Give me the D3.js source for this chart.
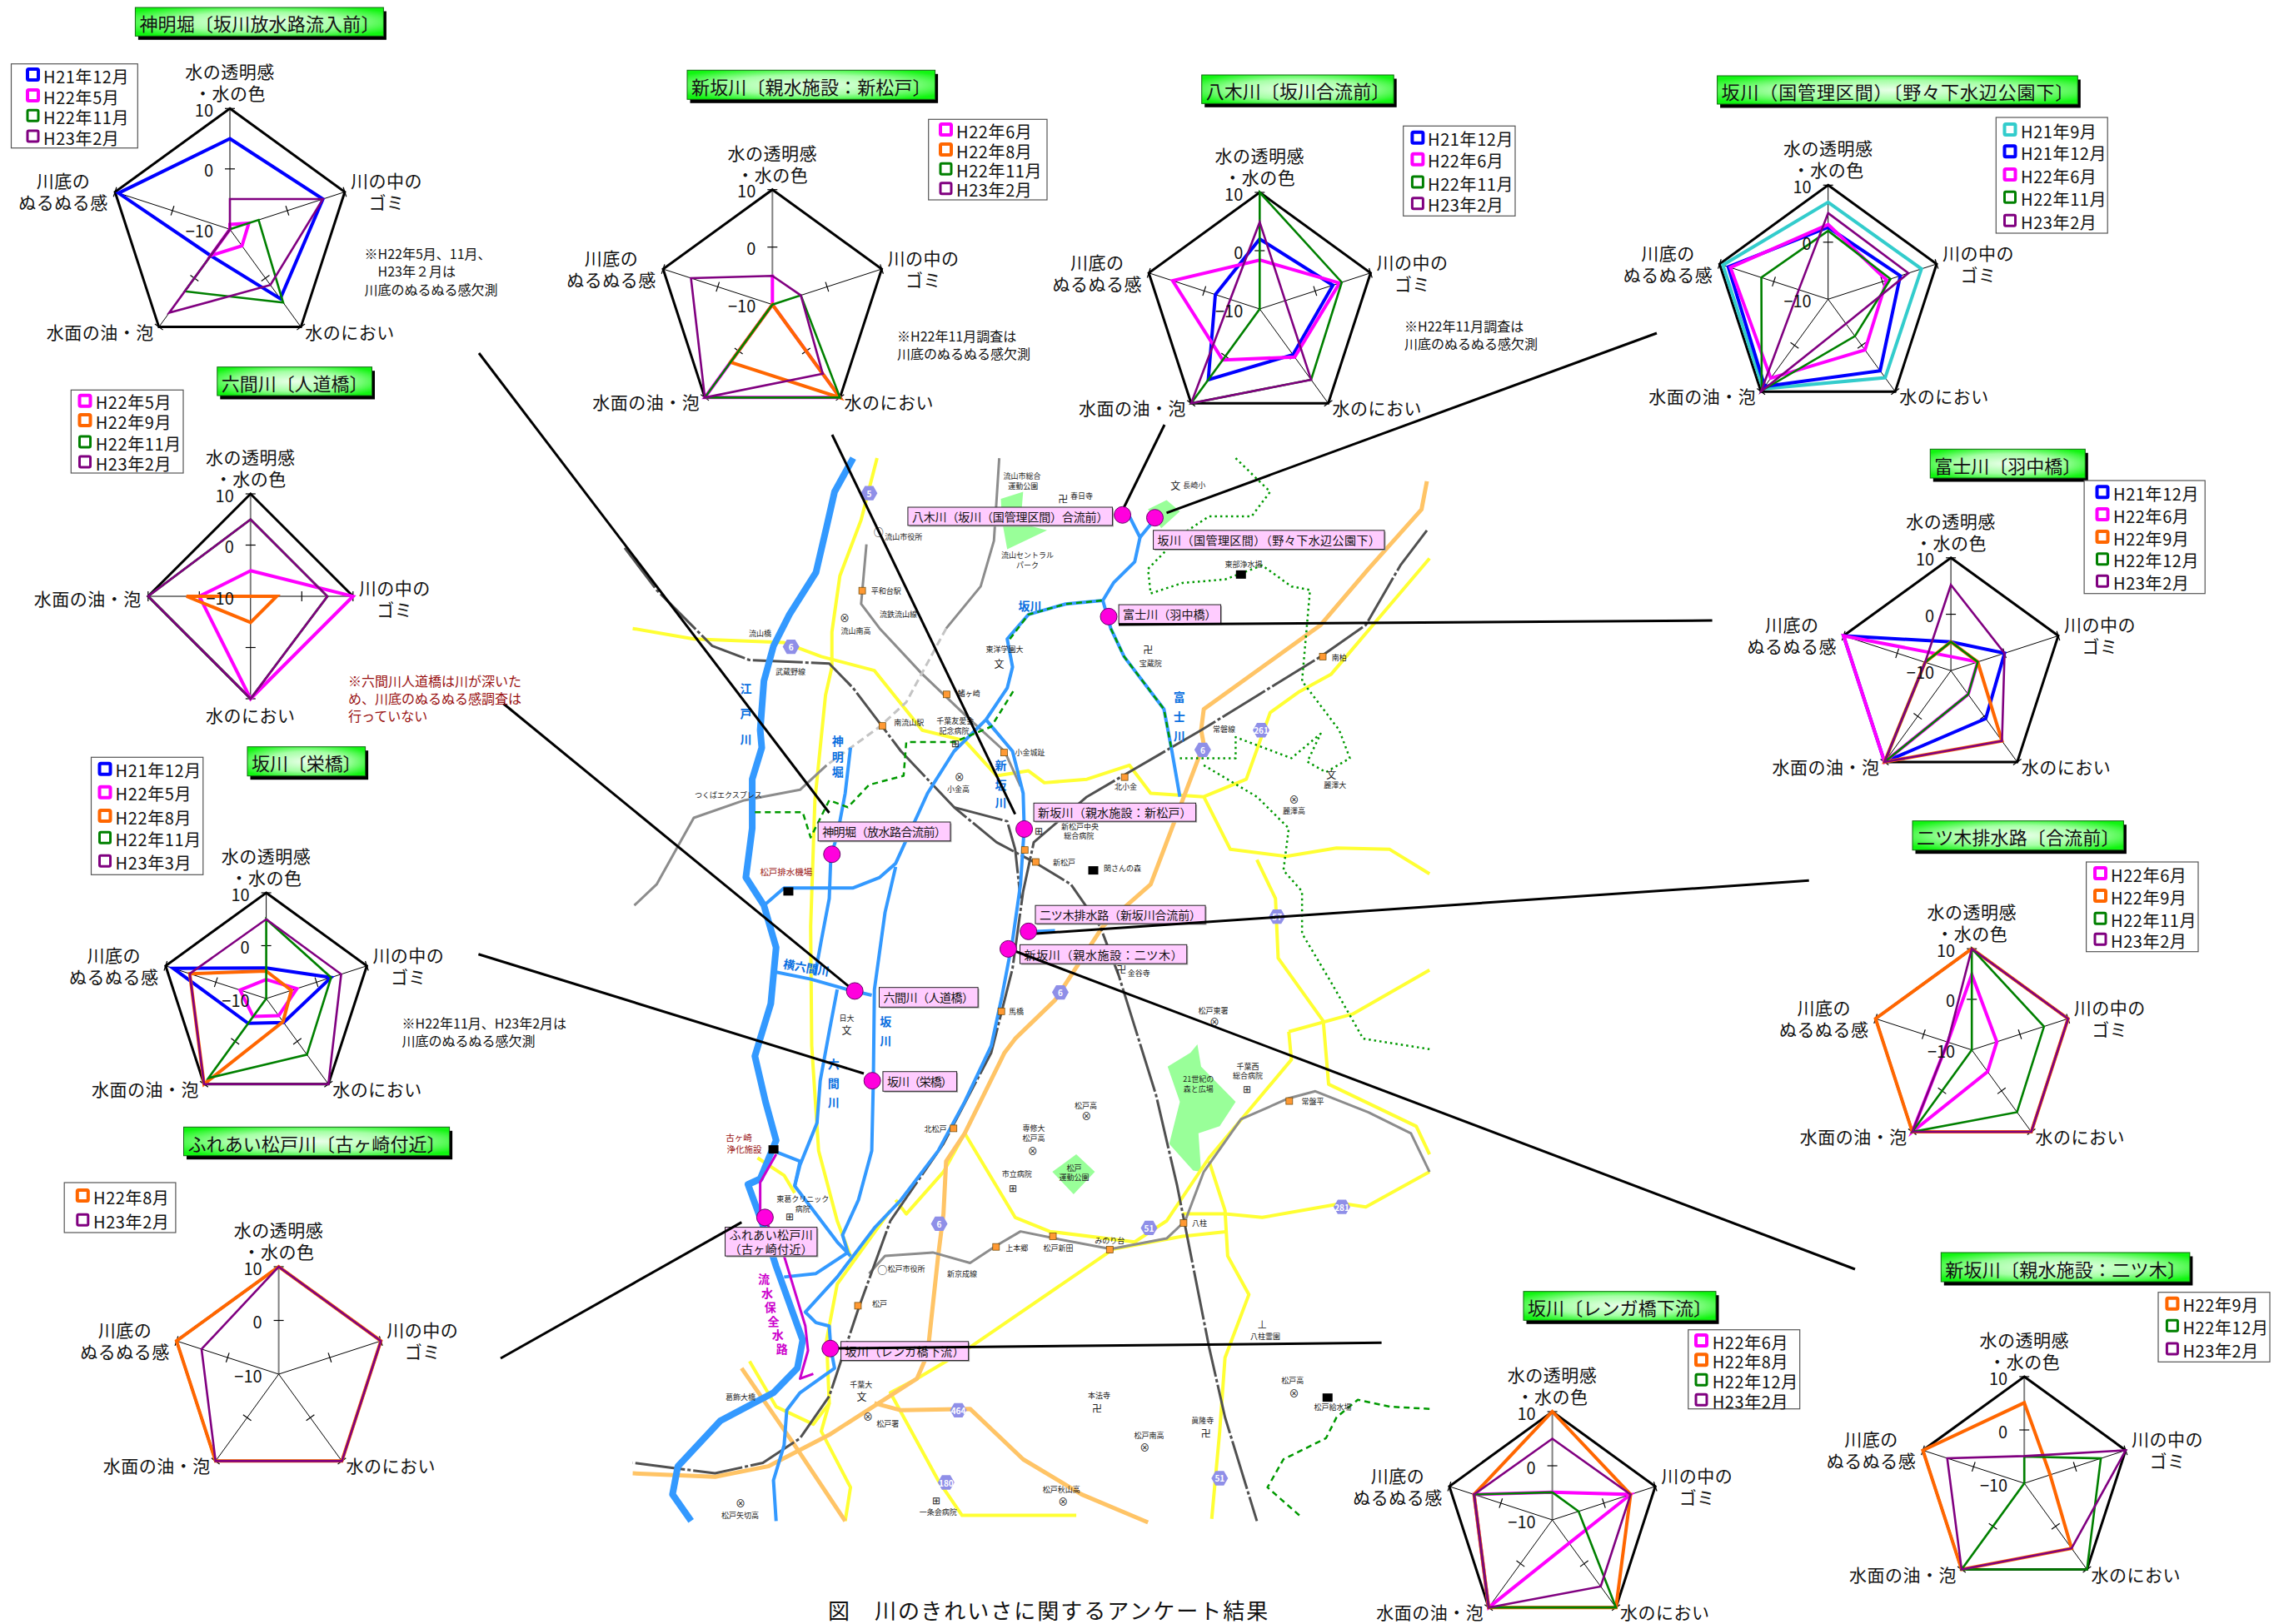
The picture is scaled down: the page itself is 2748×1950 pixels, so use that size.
<!DOCTYPE html>
<html lang="ja">
<head>
<meta charset="utf-8">
<title>川のきれいさに関するアンケート結果</title>
<script src="https://d3js.org/d3.v7.min.js"></script>
<style>
  html, body { margin: 0; padding: 0; background: #fff; }
  svg { display: block; }
  text { font-family: "Noto Sans CJK JP", "Noto Sans", sans-serif; fill: #111; }
</style>
</head>
<body>
<svg id="chart" width="2748" height="1950" viewBox="0 0 2748 1950"></svg>
<script>
// Axis names, clockwise from the top
const axisTop = ['水の透明感', '・水の色'];
const axisRight = ['川の中の', 'ゴミ'];
const axisBottomRight = ['水のにおい'];
const axisBottomLeft = ['水面の油・泡'];
const axisLeft = ['川底の', 'ぬるぬる感'];
const pentagonAxes = [axisTop, axisRight, axisBottomRight, axisBottomLeft, axisLeft];
const diamondAxes = [axisTop, axisRight, axisBottomRight, axisBottomLeft];
const scaleTicks = [10, 0, -10];

// Survey results. Each row follows the axis order above; a missing survey sits at -10
const shinmeiMonths = ['H21年12月', 'H22年5月', 'H22年11月', 'H23年2月'];
const shinmeiValues = [
  [5, 6.2, 4.2, -4.6, 9.4],
  [-9.2, -6.7, -6.6, -4.6, -10],
  [-10, -5, 5, 2.7, -10],
  [-5, 6.2, 1.4, 7.1, -10]
];
const shinMatsudoMonths = ['H22年6月', 'H22年8月', 'H22年11月', 'H23年2月'];
const shinMatsudoValues = [
  [-4.8, -10, 10, 10, -10],
  [-10, -10, 10, 2.4, -10],
  [-10, -4.8, 10, 10, -10],
  [-5, -4.8, 4.9, 10, 4.9]
];
const yagiMonths = ['H21年12月', 'H22年6月', 'H22年11月', 'H23年2月'];
const yagiValues = [
  [2, 3.2, -0.3, 5, -2],
  [-1.6, 4.4, 0.2, 0.8, 5.7],
  [10, 4.8, 5, 10, -10],
  [4.9, -5.4, 5, 10, -4.7]
];
const nonogeMonths = ['H21年9月', 'H21年12月', 'H22年6月', 'H22年11月', 'H23年2月'];
const nonogeValues = [
  [7, 7.2, 7, 9.4, 9.4],
  [2.6, 3.3, 5.5, 8.9, 8.4],
  [3.1, 0.8, 1, 7.1, 8],
  [2, 1.5, -2, 9.8, 2.3],
  [5.1, 4.8, -4.7, 10, -4.6]
];
const hanakaMonths = ['H21年12月', 'H22年6月', 'H22年9月', 'H22年12月', 'H23年2月'];
const hanakaValues = [
  [-4.9, 0, 0.5, 10, 10],
  [-7.5, -5, -4.8, 10, 10],
  [-4.9, -5, 5.4, 10, -5.2],
  [-4.9, -5, -4.8, 10, -5.2],
  [5.2, 0, 5.4, 10, -5.2]
];
const futatsugiDrainMonths = ['H22年6月', 'H22年9月', 'H22年11月', 'H23年2月'];
const futatsugiDrainValues = [
  [4.9, -4.8, -4.7, 10, -5],
  [10, 10, 10, 10, 10],
  [10, 5, 5.2, 10, -10],
  [10, 10, 10, 10, -5]
];
const futatsugiMonths = ['H22年9月', 'H22年12月', 'H23年2月'];
const futatsugiValues = [
  [5.1, -4.9, 5.1, 10, 10],
  [-5, 5.1, 10, 10, -10],
  [-4.9, 10, 5.1, 10, 5.2]
];
const rengaMonths = ['H22年6月', 'H22年8月', 'H22年12月', 'H23年2月'];
const rengaValues = [
  [-4.9, 5.2, -4.7, 10, 5.2],
  [10, 5.2, 10, 10, 5.2],
  [-4.9, -4.9, 10, 10, 5.2],
  [5, 5.2, 5.2, 10, 5.2]
];
const koganesakiMonths = ['H22年8月', 'H23年2月'];
const koganesakiValues = [
  [10, 10, 10, 10, 10],
  [10, 10, 10, 10, 5.1]
];
const sakaeMonths = ['H21年12月', 'H22年5月', 'H22年8月', 'H22年11月', 'H23年3月'];
const sakaeValues = [
  [-4.2, 2.9, -4.4, -4.2, 8.5],
  [-6.4, -3.9, -6, -5.8, -4.8],
  [-4.8, -5, -4.6, 10, 5.2],
  [5, 2.9, 3.1, 8.6, -10],
  [5, 4.9, 10, 10, 5.2]
];
// 六間川 has no 川底 axis, so only four spokes
const rokkenMonths = ['H22年5月', 'H22年9月', 'H22年11月', 'H23年2月'];
const rokkenValues = [
  [-5, 10, 10, 0],
  [-10, -4.9, -4.9, 2.5],
  [5, 5, 10, 10],
  [5, 5, 10, 10]
];

// Where each small chart goes: centre, radius, title box, legend box and row positions
const panels = [
  { title: '神明堀〔坂川放水路流入前〕', axes: pentagonAxes, months: shinmeiMonths, values: shinmeiValues,
    cx: 276, cy: 275.3, r: 145, box: [162.4, 9, 298, 34.3], legend: [13.5, 76.7, 151.8, 101],
    rows: [90, 115, 139.3, 164], swatchX: 31, textX: 52,
    note: { x: 437.5, y: 304, lines: ['※H22年5月、11月、', '　H23年２月は', '川底のぬるぬる感欠測'] } },
  { title: '新坂川〔親水施設：新松戸〕', axes: pentagonAxes, months: shinMatsudoMonths, values: shinMatsudoValues,
    cx: 927.3, cy: 365.7, r: 138, box: [825, 84.3, 297.6, 35], legend: [1114.7, 143.3, 142.3, 96.7], greyAxis: true,
    rows: [156, 180, 203.3, 226.7], swatchX: 1127, textX: 1148,
    note: { x: 1077, y: 402.7, lines: ['※H22年11月調査は', '川底のぬるぬる感欠測'] } },
  { title: '八木川〔坂川合流前〕', axes: pentagonAxes, months: yagiMonths, values: yagiValues,
    cx: 1512.3, cy: 371, r: 140, box: [1442.7, 90, 230.5, 34.3], legend: [1684.7, 151.3, 134.3, 108],
    rows: [165.7, 191.7, 219, 244.7], swatchX: 1693.4, textX: 1714,
    note: { x: 1686, y: 391, lines: ['※H22年11月調査は', '川底のぬるぬる感欠測'] } },
  { title: '坂川（国管理区間）〔野々下水辺公園下〕', axes: pentagonAxes, months: nonogeMonths, values: nonogeValues,
    cx: 2194.7, cy: 359.3, r: 137, box: [2061.6, 91, 432.7, 34], legend: [2396.3, 141, 133.9, 139],
    rows: [156, 182.3, 210, 237.3, 265.3], swatchX: 2404.5, textX: 2426 },
  { title: '富士川〔羽中橋〕', axes: pentagonAxes, months: hanakaMonths, values: hanakaValues,
    cx: 2342.1, cy: 805.3, r: 135.5, box: [2317.3, 539.3, 186, 34.7], legend: [2502.1, 577, 145.1, 135.7],
    rows: [591.3, 618, 645, 671.7, 698.3], swatchX: 2515.5, textX: 2537 },
  { title: '二ツ木排水路〔合流前〕', axes: pentagonAxes, months: futatsugiDrainMonths, values: futatsugiDrainValues,
    cx: 2367.2, cy: 1260.7, r: 121.5, box: [2296, 985.7, 253.4, 35], legend: [2504.6, 1035, 134.4, 107.7],
    rows: [1049, 1076, 1103.3, 1128.3], swatchX: 2513, textX: 2534 },
  { title: '新坂川〔親水施設：二ツ木〕', axes: pentagonAxes, months: futatsugiMonths, values: futatsugiValues,
    cx: 2430.2, cy: 1781, r: 128, box: [2330.3, 1504, 298.6, 35], legend: [2591, 1551.7, 134, 83.6], greyAxis: true,
    rows: [1565.7, 1592.3, 1620], swatchX: 2599.4, textX: 2620.4 },
  { title: '坂川〔レンガ橋下流〕', axes: pentagonAxes, months: rengaMonths, values: rengaValues,
    cx: 1863.6, cy: 1825, r: 130, box: [1829, 1550.7, 231, 34.6], legend: [2026.8, 1596.7, 133.9, 95], greyAxis: true,
    rows: [1610, 1633.3, 1657.3, 1681.3], swatchX: 2034, textX: 2055.7 },
  { title: 'ふれあい松戸川〔古ヶ崎付近〕', axes: pentagonAxes, months: koganesakiMonths, values: koganesakiValues,
    cx: 334.6, cy: 1650, r: 129, box: [220.5, 1353.3, 319.1, 34.4], legend: [77.2, 1420, 133.7, 60], greyAxis: true,
    rows: [1436, 1465.3], swatchX: 90.8, textX: 112 },
  { title: '坂川〔栄橋〕', axes: pentagonAxes, months: sakaeMonths, values: sakaeValues,
    cx: 319.6, cy: 1199, r: 127, box: [297, 896.7, 141.6, 35], legend: [109.5, 909.3, 134.3, 141],
    rows: [923.7, 951.7, 980, 1006.3, 1034.3], swatchX: 117.5, textX: 138.6,
    note: { x: 482.6, y: 1227.7, lines: ['※H22年11月、H23年2月は', '川底のぬるぬる感欠測'] } },
  { title: '六間川〔人道橋〕', axes: diamondAxes, months: rokkenMonths, values: rokkenValues,
    cx: 300.8, cy: 716, r: 123, box: [260.8, 440.7, 185.7, 34.3], legend: [85.3, 468.3, 134.7, 99.7], greyAxis: true,
    rows: [481.7, 505, 531, 555], swatchX: 93.5, textX: 114.7,
    note: { x: 418, y: 816.7, color: '#991111', lines: ['※六間川人道橋は川が深いた', 'め、川底のぬるぬる感調査は', '行っていない'] } }
];

// Survey months share colours across every chart
const monthColor = label => {
  if (label.startsWith('H21年9')) return '#33cccc';
  if (label.startsWith('H21')) return '#0000ff';
  if (/H22年[56]月/.test(label)) return '#ff00ff';
  if (/H22年[89]月/.test(label)) return '#ff6600';
  if (label.startsWith('H22')) return '#008000';
  return '#800080';
};
const isThinMonth = label => /H22年1[12]月|H23/.test(label);

// Map geometry, in the map's own 1568 x 1568 units
const edogawa = [[430,12],[395,60],[380,110],[360,175],[310,235],[280,280],[262,330],[255,400],[258,425],[240,470],[240,540],[228,610],[262,650],[285,710],[275,790],[245,865],[265,930],[285,985],[255,1040],[232,1048],[262,1110],[285,1165],[335,1270],[325,1310],[280,1345],[180,1385],[100,1450],[90,1490],[125,1528]];
const rivers = [
  [[425,425],[415,490],[400,550],[388,580],[385,640],[370,700],[358,750]],
  [[285,745],[350,755],[420,770],[465,778]],
  [[400,770],[385,830],[368,900],[362,960],[330,1020],[320,1050],[400,1130],[425,1150]],
  [[510,595],[490,660],[470,770],[468,900],[465,1000],[440,1070],[410,1120],[420,1145],[360,1175],[300,1180]],
  [[262,650],[300,625],[430,625],[480,610],[510,590],[570,490],[620,430],[680,385],[720,340],[730,310],[720,270],[760,235],[830,220],[900,215],[920,190],[960,160],[970,125],[950,95],[937,93]],
  [[970,125],[1000,97]],
  [[900,215],[915,255],[940,295],[1015,370],[1030,430],[1045,495]],
  [[680,385],[730,430],[750,490],[752,540],[745,620],[730,700],[710,780],[690,850],[640,930],[590,1000],[520,1070],[470,1110],[400,1180],[340,1230],[360,1245],[385,1250],[388,1282],[395,1310],[330,1345],[305,1370],[300,1420],[280,1470],[285,1528]],
  [[745,688],[810,686]],
  [[280,1000],[330,1015],[320,1050]]
];
const conservationChannel = [[285,1005],[255,1045],[255,1085],[300,1150],[340,1250],[345,1285],[330,1325],[355,1318]];
const yellowRoads = [
  [[475,12],[445,100],[405,180],[390,260],[390,310],[378,350],[358,500],[350,680],[352,850],[365,1000],[400,1100],[430,1160]],
  [[15,255],[130,270],[300,275],[370,295],[470,315],[560,400],[640,415],[700,465],[760,458],[790,475],[870,470],[950,450],[990,490],[1090,495],[1170,470],[1215,375],[1270,345],[1330,320],[1515,155]],
  [[1090,495],[1140,570],[1245,580],[1340,568],[1440,570],[1515,605]],
  [[1190,585],[1225,640],[1230,725],[1315,815],[1325,905],[1490,965],[1515,1005]],
  [[1250,830],[1370,805],[1515,742]],
  [[1250,830],[1255,870],[1100,1010],[1020,1100],[1000,1110],[960,1130],[800,1115],[735,1095],[640,975]],
  [[640,975],[600,1030],[530,1090],[510,1070]],
  [[1515,1030],[1395,1080],[1350,1075],[1200,1095],[1130,1090],[1050,1090]],
  [[1100,1015],[1130,1085],[1135,1150],[1175,1205],[1130,1295],[1120,1400],[1105,1525]],
  [[1135,1115],[1050,1122],[920,1140],[650,1280],[550,1325],[500,1345],[590,1470],[635,1520],[850,1520]],
  [[500,1085],[400,1190],[380,1270],[385,1360],[355,1390],[285,1365],[235,1300]],
  [[385,1360],[370,1400],[425,1480],[415,1528]],
  [[250,1010],[300,1035],[320,1060]]
];
const orangeRoads = [
  [[1510,45],[1500,85],[1400,170],[1310,250],[1090,370],[1085,400],[1090,420],[1020,560],[990,620],[900,680],[810,785],[735,840],[715,860],[640,975],[605,1015],[600,1090],[590,1150],[570,1290],[550,1325],[385,1405],[270,1450],[170,1465],[15,1460]],
  [[220,1310],[320,1420],[415,1528]],
  [[470,1360],[520,1370],[650,1368],[750,1440],[860,1490],[985,1530]]
];
const greyRails = [
  [[705,12],[695,130],[670,195],[605,255]],
  [[380,450],[330,485],[225,500],[130,525],[60,620],[18,650]],
  [[455,135],[445,220],[480,255],[560,320],[650,385],[715,430],[745,480]],
  [[460,1175],[490,1150],[580,1145],[650,1160],[700,1135],[745,1115],[810,1125],[915,1140],[1020,1125],[1055,1100],[1090,1030],[1160,955],[1250,925],[1300,915],[1400,945],[1480,975],[1515,1030]]
];
const plannedRail = [[605,255],[530,360],[480,395],[380,450]];
const darkRails = [
  [[0,140],[60,200],[165,280],[235,300],[385,305],[430,340],[520,430],[620,510],[700,560],[775,590],[840,620],[895,680],[930,750],[1000,920],[1040,1050],[1100,1280],[1130,1380],[1190,1528]],
  [[1510,115],[1460,165],[1395,250],[1310,295],[1085,400],[870,495],[770,560],[750,630],[730,740],[690,860],[600,990],[500,1100],[440,1225],[385,1350],[330,1410],[260,1445],[170,1460],[15,1445]],
  [[620,510],[720,530],[735,570],[745,640]]
];
const greenDashedTrails = [
  [[245,517],[335,517],[350,553],[385,500],[420,510],[460,478],[525,465],[530,417],[620,417],[690,395],[735,340]],
  [[725,270],[760,235],[830,220],[900,215]],
  [[915,255],[940,295],[1015,370],[1030,430]],
  [[1515,1368],[1440,1365],[1380,1355],[1340,1380],[1320,1410],[1240,1440],[1210,1480],[1270,1520]]
];
const greenDottedTrails = [
  [[1150,12],[1215,60],[1180,95],[1100,95],[1050,120],[985,170],[990,205],[1050,190],[1130,185],[1200,165],[1255,195],[1290,200],[1275,330],[1345,400],[1365,440],[1320,460],[1285,445],[1310,405],[1255,440],[1220,430],[1150,410],[1150,440],[1040,440]],
  [[1090,450],[1190,495],[1250,540],[1240,600],[1275,630],[1275,690],[1330,760],[1390,840],[1515,855]]
];
const parks = [
  [[708,70],[750,60],[745,105],[795,115],[720,142],[710,100]],
  [[985,85],[1020,72],[1045,88],[1010,112]],
  [[1078,848],[1085,880],[1150,930],[1120,965],[1080,975],[1085,1030],[1070,1028],[1025,990],[1045,930],[1022,880],[1065,860]],
  [[805,1030],[850,1005],[885,1030],[845,1062]]
];
const blackSites = [[1160,178],[882,600],[308,630],[280,998],[1323,1352]];
const stations = [[447,201],[1314,295],[606,349],[485,394],[714,432],[941,467],[753,571],[774,588],[709,801],[619,968],[1251,929],[699,1137],[806,1122],[913,1141],[1052,1103],[439,1221]];
const shields = [['5',460,62],['6',313,281],['6',1088,428],['261',1198,400],['57',1228,666],['6',820,774],['51',987,1110],['281',1350,1080],['6',592,1104],['464',628,1370],['180',605,1473],['51',1120,1467]];
const surveyPoints = [[937,93],[998,97],[911,238],[752,541],[390,577],[760,687],[722,712],[433,772],[466,900],[264,1095],[387,1282]];
const pointLabels = [
  [['八木川（坂川（国管理区間）合流前）'], 533, 82, 918, 108],
  [['坂川（国管理区間）（野々下水辺公園下）'], 995, 115, 1430, 142],
  [['富士川（羽中橋）'], 930, 221, 1122, 248],
  [['新坂川（親水施設：新松戸）'], 770, 504, 1075, 530],
  [['神明堀（放水路合流前）'], 364, 531, 613, 558],
  [['二ツ木排水路（新坂川合流前）'], 773, 650, 1093, 676],
  [['新坂川（親水施設：二ツ木）'], 744, 706, 1058, 733],
  [['六間川（人道橋）'], 479, 767, 665, 795],
  [['坂川（栄橋）'], 486, 887, 625, 915],
  [['ふれあい松戸川', '（古ヶ崎付近）'], 189, 1109, 362, 1150],
  [['坂川（レンガ橋下流）'], 407, 1272, 647, 1299]
];
const placeNames = [
  ['流山市総合',748,38],['運動公園',750,52],['春日寺',860,66],['長崎小',1072,50],['流山市役所',525,124],['流山セントラル',758,150],['パーク',758,164],
  ['東部浄水場',1165,163],['平和台駅',492,201],['流鉄流山線',515,235],['流山南高',435,258],['流山橋',255,262],['武蔵野線',312,317],['宝蔵院',990,305],
  ['東洋学園大',715,285],['南柏',1345,296],['鰭ヶ崎',648,348],['南流山駅',535,389],['千葉友愛会',622,387],['記念病院',620,401],['常磐線',1128,399],
  ['小金城趾',763,432],['小金高',628,484],['北小金',943,481],['麗澤大',1337,478],['麗澤高',1260,515],['つくばエクスプレス',195,492],['新松戸中央',857,538],
  ['総合病院',855,551],['新松戸',827,588],['関さんの森',937,597],['金谷寺',968,746],['馬橋',737,801],['日大',418,811],['松戸東署',1108,800],
  ['千葉西',1173,880],['総合病院',1173,893],['21世紀の',1080,898],['森と広場',1080,912],['松戸高',868,936],['常盤平',1295,930],['専修大',770,968],['松戸高',770,982],
  ['北松戸',585,969],['市立病院',738,1033],['松戸',846,1024],['運動公園',846,1038],['東葛クリニック',335,1069],['病院',335,1083],['八柱',1082,1103],
  ['上本郷',738,1138],['松戸新田',816,1138],['みのり台',913,1128],['松戸市役所',530,1168],['新京成線',635,1175],['松戸',480,1218],['八柱霊園',1206,1264],
  ['千葉大',445,1333],['葛飾大橋',218,1351],['本法寺',893,1349],['松戸高',1257,1328],['松戸給水場',1333,1365],['松戸署',495,1389],['眞隆寺',1088,1385],
  ['松戸南高',987,1406],['松戸秋山高',822,1483],['一条会病院',590,1515],['松戸矢切高',217,1520]
];
const facilityNames = [['松戸排水機場',304,602],['古ヶ崎',215,981],['浄化施設',225,997]];
const riverNames = [
  ['坂川',763,222],['江',228,340],['戸',228,375],['川',228,412],['神',401,415],['明',401,437],['堀',401,459],['富',1044,352],['士',1044,380],['川',1044,407],
  ['新',708,449],['坂',708,477],['川',708,503],['坂',491,815],['川',491,842],['六',393,875],['間',393,903],['川',393,930]
];
const channelName = [['流',262,1182],['水',268,1202],['保',274,1222],['全',280,1242],['水',288,1262],['路',296,1282]];
const mapSymbols = [
  ['⊗',414,239],['⊗',630,466],['⊗',1260,498],['⊗',1110,816],['⊗',869,950],['⊗',768,1000],['⊗',458,1378],['⊗',1260,1345],['⊗',979,1423],['⊗',825,1500],['⊗',218,1502],
  ['卍',825,70],['卍',985,285],['卍',935,741],['卍',889,1367],['卍',1094,1402],
  ['文',705,305],['文',1330,463],['文',1037,50],['文',418,827],['文',446,1350],
  ['⊞',622,417],['⊞',780,542],['⊞',1172,910],['⊞',730,1052],['⊞',311,1092],['⊞',587,1497],
  ['⊥',1200,1247],['○',478,117],['○',485,1170]
];
// Heavy lines from each chart to its survey point: [chart end, map end]
const leaderLines = [
  [[575,424],[995.5,976]],
  [[999,522],[1218.7,977.7]],
  [[1398,510],[1346,616]],
  [[1989,400],[1400.5,615.8]],
  [[2055.6,745],[1343,750]],
  [[2171.7,1057.3],[1244,1121]],
  [[2227,1524],[1210.5,1139]],
  [[604.5,845],[1025.5,1189.8]],
  [[574.4,1145.7],[1037,1289]],
  [[601,1631],[890.3,1467.6]],
  [[1658.6,1612.3],[1005,1619]]
];
const captionText = '図　川のきれいさに関するアンケート結果';

const svg = d3.select('#chart');
const defs = svg.append('defs');

// Title plates: green edge fading to a pale centre
const plate = defs.append('radialGradient').attr('id', 'plate').attr('cx', 0.5).attr('cy', 0.5).attr('r', 0.62);
plate.append('stop').attr('offset', '0%').attr('stop-color', '#eaffea');
plate.append('stop').attr('offset', '55%').attr('stop-color', '#a5ffa5');
plate.append('stop').attr('offset', '100%').attr('stop-color', '#11f511');

// --- Map ---
const mapX = d3.scaleLinear().domain([0, 1568]).range([750, 1750]);
const mapY = d3.scaleLinear().domain([0, 1568]).range([540, 1860]);
const mapLine = d3.line().x(d => mapX(d[0])).y(d => mapY(d[1]));
const mapG = svg.append('g').attr('class', 'map');

function drawLines(rows, color, width, dash) {
  mapG.append('g').selectAll('path').data(rows).join('path')
    .attr('d', mapLine)
    .attr('fill', 'none')
    .attr('stroke', color)
    .attr('stroke-width', width)
    .attr('stroke-linejoin', 'round')
    .attr('stroke-dasharray', dash || null);
}

function drawNames(rows, size, color, weight) {
  mapG.append('g').selectAll('text').data(rows).join('text')
    .attr('x', d => mapX(d[1]))
    .attr('y', d => mapY(d[2]))
    .attr('text-anchor', 'middle')
    .attr('dominant-baseline', 'central')
    .attr('font-size', size)
    .attr('font-weight', weight || 400)
    .style('fill', color)
    .text(d => d[0]);
}

mapG.append('g').selectAll('path').data(parks).join('path')
  .attr('d', d => mapLine(d) + 'Z')
  .attr('fill', '#99ff99');
drawLines(yellowRoads, '#ffff33', 4);
drawLines(orangeRoads, '#ffc466', 5);
drawLines(greyRails, '#8c8c8c', 3);
drawLines([plannedRail], '#c4c4c4', 3, '9 5');
drawLines(darkRails, '#505050', 3, '60 3 4 3');
drawLines(rivers, '#3399ff', 4);
drawLines([edogawa], '#3399ff', 8);
drawLines([conservationChannel], '#cc00cc', 3);
drawLines(greenDashedTrails, '#009900', 2.5, '7 5');
drawLines(greenDottedTrails, '#009900', 2.5, '2.5 4');

mapG.append('g').selectAll('rect').data(blackSites).join('rect')
  .attr('x', d => mapX(d[0]) - 6).attr('y', d => mapY(d[1]) - 5)
  .attr('width', 12).attr('height', 10).attr('fill', '#000');
mapG.append('g').selectAll('rect').data(stations).join('rect')
  .attr('x', d => mapX(d[0]) - 4).attr('y', d => mapY(d[1]) - 4)
  .attr('width', 8).attr('height', 8)
  .attr('fill', '#ff9933').attr('stroke', '#664400').attr('stroke-width', 0.7);

// Route shields: small hexagons with the route number
const hexagon = d3.lineRadial().curve(d3.curveLinearClosed)
  .angle((d, i) => i * Math.PI / 3 + Math.PI / 2).radius(10);
const shieldG = mapG.append('g').selectAll('g').data(shields).join('g')
  .attr('transform', d => `translate(${mapX(d[1])},${mapY(d[2])})`);
shieldG.append('path').attr('d', hexagon(d3.range(6))).attr('fill', '#8f8fe8');
shieldG.append('text').attr('text-anchor', 'middle').attr('dominant-baseline', 'central')
  .attr('font-size', 10).attr('font-weight', 700).style('fill', '#fff').text(d => d[0]);

drawNames(mapSymbols, 12, '#222');
drawNames(placeNames, 9, '#222');
drawNames(facilityNames, 10.5, '#991111');
drawNames(riverNames, 14, '#0a6fe0', 700);
drawNames(channelName, 14, '#cc00cc', 700);

mapG.append('text')
  .attr('transform', `translate(${mapX(342)},${mapY(738)}) rotate(10)`)
  .attr('text-anchor', 'middle').attr('dominant-baseline', 'central')
  .attr('font-size', 14).attr('font-weight', 700).style('fill', '#0a6fe0').text('横六間川');

// Pink survey point labels
const labelG = svg.append('g').selectAll('g').data(pointLabels).join('g');
labelG.append('rect')
  .attr('x', d => mapX(d[1]) + 1.5).attr('y', d => mapY(d[2]) + 1.5)
  .attr('width', d => mapX(d[3]) - mapX(d[1])).attr('height', d => mapY(d[4]) - mapY(d[2]))
  .attr('fill', '#aaa');
labelG.append('rect')
  .attr('x', d => mapX(d[1])).attr('y', d => mapY(d[2]))
  .attr('width', d => mapX(d[3]) - mapX(d[1])).attr('height', d => mapY(d[4]) - mapY(d[2]))
  .attr('fill', '#ffccff').attr('stroke', '#222').attr('stroke-width', 1);
labelG.each(function (d) {
  const left = mapX(d[1]) + 5;
  const top = mapY(d[2]);
  const lineH = (mapY(d[4]) - top) / d[0].length;
  const longest = d3.max(d[0], s => s.length);
  d3.select(this).selectAll('text').data(d[0]).join('text')
    .attr('x', left)
    .attr('y', (s, i) => top + lineH * (i + 0.5))
    .attr('dominant-baseline', 'central')
    .attr('font-size', 14)
    .attr('textLength', s => (mapX(d[3]) - mapX(d[1]) - 10) * s.length / longest)
    .attr('lengthAdjust', 'spacing')
    .text(s => s);
});

// --- Leader lines ---
svg.append('g').selectAll('line').data(leaderLines).join('line')
  .attr('x1', d => d[0][0]).attr('y1', d => d[0][1])
  .attr('x2', d => d[1][0]).attr('y2', d => d[1][1])
  .attr('stroke', '#000').attr('stroke-width', 3);

svg.append('g').selectAll('circle').data(surveyPoints).join('circle')
  .attr('cx', d => mapX(d[0])).attr('cy', d => mapY(d[1])).attr('r', 10)
  .attr('fill', '#ff00dd').attr('stroke', '#660066').attr('stroke-width', 1);

// --- Radar panels ---
function drawPanel(p) {
  const g = svg.append('g').attr('class', 'panel');
  const n = p.axes.length;
  const radius = d3.scaleLinear().domain([-10, 10]).range([0, p.r]);
  const angle = i => i * 2 * Math.PI / n;
  const px = (i, v) => p.cx + radius(v) * Math.sin(angle(i));
  const py = (i, v) => p.cy - radius(v) * Math.cos(angle(i));
  const ring = d3.line().x(d => d[0]).y(d => d[1]).curve(d3.curveLinearClosed);
  const spokes = d3.range(n);

  // spokes
  g.append('g').selectAll('line').data(spokes).join('line')
    .attr('x1', p.cx).attr('y1', p.cy)
    .attr('x2', i => px(i, 10)).attr('y2', i => py(i, 10))
    .attr('stroke', i => (i === 0 && p.greyAxis) ? '#808080' : '#000')
    .attr('stroke-width', i => (i === 0 && p.greyAxis) ? 2 : 1);

  // tick marks at 0 and 10 across each spoke
  const tickMarks = spokes.flatMap(i => [0, 10].map(v => ({ i, v })));
  g.append('g').selectAll('line').data(tickMarks).join('line')
    .attr('x1', d => px(d.i, d.v) - 6 * Math.cos(angle(d.i)))
    .attr('y1', d => py(d.i, d.v) - 6 * Math.sin(angle(d.i)))
    .attr('x2', d => px(d.i, d.v) + 6 * Math.cos(angle(d.i)))
    .attr('y2', d => py(d.i, d.v) + 6 * Math.sin(angle(d.i)))
    .attr('stroke', '#000').attr('stroke-width', 1.2);

  // outer frame
  g.append('path')
    .attr('d', ring(spokes.map(i => [px(i, 10), py(i, 10)])))
    .attr('fill', 'none').attr('stroke', '#000').attr('stroke-width', 3);

  // survey lines
  g.append('g').selectAll('path').data(p.values).join('path')
    .attr('d', row => ring(row.map((v, i) => [px(i, v), py(i, v)])))
    .attr('fill', 'none')
    .attr('stroke', (row, k) => monthColor(p.months[k]))
    .attr('stroke-width', (row, k) => isThinMonth(p.months[k]) ? 2.6 : 4)
    .attr('stroke-linejoin', 'miter');

  // scale labels
  g.append('g').selectAll('text').data(scaleTicks).join('text')
    .attr('x', p.cx - 20)
    .attr('y', v => py(0, v) + 1)
    .attr('text-anchor', 'end')
    .attr('dominant-baseline', 'central')
    .attr('font-size', 20)
    .text(v => String(v).replace('-', '−'));

  // axis names
  p.axes.forEach((lines, i) => {
    const vx = px(i, 10);
    const vy = py(i, 10);
    const side = Math.sin(angle(i));
    let x = vx, y = vy, anchor = 'middle';
    if (i === 0) {
      y = vy - 45;
    } else if (n === 4 && i === 2) {
      y = vy + 19;
    } else if (n === 4 && i === 3) {
      x = vx - 8; y = vy + 2; anchor = 'end';
    } else if (n === 4 && i === 1) {
      x = vx + 50; y = vy - 11;
    } else if (Math.abs(side) > 0.9) {
      x = vx + (side > 0 ? 50 : -62); y = vy - 14;
    } else {
      x = vx + (side > 0 ? 5 : -6); y = vy + 5; anchor = side > 0 ? 'start' : 'end';
    }
    g.append('g').selectAll('text').data(lines).join('text')
      .attr('x', x)
      .attr('y', (s, k) => y + k * 26)
      .attr('text-anchor', anchor)
      .attr('dominant-baseline', 'central')
      .attr('font-size', 21)
      .attr('letter-spacing', 0.5)
      .text(s => s);
  });

  // title plate
  const [bx, by, bw, bh] = p.box;
  g.append('rect').attr('x', bx + 3.5).attr('y', by + 4.5).attr('width', bw).attr('height', bh).attr('fill', '#000');
  g.append('rect').attr('x', bx).attr('y', by).attr('width', bw).attr('height', bh)
    .attr('fill', 'url(#plate)').attr('stroke', '#116611').attr('stroke-width', 1);
  g.append('text')
    .attr('x', bx + 5).attr('y', by + bh / 2 + 1)
    .attr('dominant-baseline', 'central')
    .attr('font-size', 22)
    .attr('textLength', bw - 10).attr('lengthAdjust', 'spacing')
    .text(p.title);

  // legend
  const [lx, ly, lw, lh] = p.legend;
  g.append('rect').attr('x', lx).attr('y', ly).attr('width', lw).attr('height', lh)
    .attr('fill', '#fff').attr('stroke', '#555').attr('stroke-width', 1.2);
  const rows = g.append('g').selectAll('g').data(p.months).join('g');
  rows.append('rect')
    .attr('x', p.swatchX + 2).attr('y', (m, k) => p.rows[k] - 7)
    .attr('width', 13).attr('height', 13).attr('rx', 1.5)
    .attr('fill', '#fff')
    .attr('stroke', m => monthColor(m))
    .attr('stroke-width', m => isThinMonth(m) ? 3 : 4);
  rows.append('text')
    .attr('x', p.textX).attr('y', (m, k) => p.rows[k] + 1)
    .attr('dominant-baseline', 'central')
    .attr('font-size', 20)
    .attr('letter-spacing', 0.6)
    .text(m => m);

  // footnote
  if (p.note) {
    g.append('g').selectAll('text').data(p.note.lines).join('text')
      .attr('x', p.note.x)
      .attr('y', (s, k) => p.note.y + k * 21.3)
      .attr('dominant-baseline', 'central')
      .attr('font-size', 16)
      .style('fill', p.note.color || '#111')
      .text(s => s);
  }
}

panels.forEach(drawPanel);

// --- Caption ---
svg.append('text')
  .attr('x', 994).attr('y', 1932)
  .attr('dominant-baseline', 'central')
  .attr('font-size', 26)
  .attr('letter-spacing', 2)
  .text(captionText);
</script>
</body>
</html>
